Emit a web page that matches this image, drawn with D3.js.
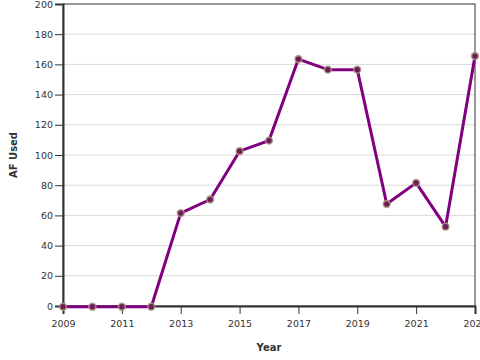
<!DOCTYPE html>
<html><head><meta charset="utf-8">
<script src="https://cdn.jsdelivr.net/npm/d3@7"></script>
<style>body{margin:0;background:#fff}svg{display:block;font-family:"DejaVu Sans",sans-serif}</style>
</head><body><svg id="c" width="480" height="360"></svg>
<script>
const years = [2009,2010,2011,2012,2013,2014,2015,2016,2017,2018,2019,2020,2021,2022,2023];
const afUsed = [0,0,0,0,62,71,103,110,164,157,157,68,82,53,166];
const yTicks = [0,20,40,60,80,100,120,140,160,180,200];
const xTicks = [2009,2011,2013,2015,2017,2019,2021,2023];

const svg = d3.select("#c");
const m = {l:63, r:475, t:4, b:306};
const x = d3.scaleLinear().domain([2009,2023]).range([m.l,m.r]);
const y = d3.scaleLinear().domain([0,200]).range([m.b,m.t]);

// gridlines
svg.append("g").selectAll("line").data(yTicks.filter(d=>d>0&&d<200)).join("line")
  .attr("x1",m.l).attr("x2",m.r).attr("y1",d=>y(d)).attr("y2",d=>y(d))
  .attr("stroke","#d9d9d9").attr("stroke-width",1);

// frame
svg.append("rect").attr("x",m.l).attr("y",m.t).attr("width",m.r-m.l).attr("height",m.b-m.t)
  .attr("fill","none").attr("stroke","#333").attr("stroke-width",1);

const yAxis = svg.append("g").attr("transform",`translate(${m.l},0)`)
  .call(d3.axisLeft(y).tickValues(yTicks).tickSize(8).tickPadding(2));
const xAxis = svg.append("g").attr("transform",`translate(0,${m.b})`)
  .call(d3.axisBottom(x).tickValues(xTicks).tickFormat(d3.format("d")).tickSize(8).tickPadding(6));
[yAxis,xAxis].forEach(a=>{
  a.select(".domain").attr("stroke","#333").attr("stroke-width",2);
  a.selectAll(".tick line").attr("stroke","#333").attr("stroke-width",1);
  a.selectAll(".tick text").attr("fill","#333").style("font-size","9.5px").style("font-family","DejaVu Sans, sans-serif");
});

const line = d3.line().x((d,i)=>x(years[i])).y(d=>y(d)+0.7);
svg.append("path").datum(afUsed).attr("d",line).attr("fill","none")
  .attr("stroke","#800080").attr("stroke-width",3).attr("stroke-linejoin","round");

svg.append("g").selectAll("circle").data(afUsed).join("circle")
  .attr("cx",(d,i)=>x(years[i])).attr("cy",d=>y(d)+0.7).attr("r",3.4)
  .attr("fill","#6e1a5c").attr("stroke","#a99c7e").attr("stroke-width",1.6).attr("stroke-opacity",0.85);

svg.append("text").attr("x",269).attr("y",351).attr("text-anchor","middle")
  .style("font-size","10px").style("font-weight","bold").attr("fill","#333").text("Year");
svg.append("text").attr("transform",`translate(17,155) rotate(-90)`).attr("text-anchor","middle")
  .style("font-size","10px").style("font-weight","bold").attr("fill","#333").text("AF Used");
</script></body></html>
